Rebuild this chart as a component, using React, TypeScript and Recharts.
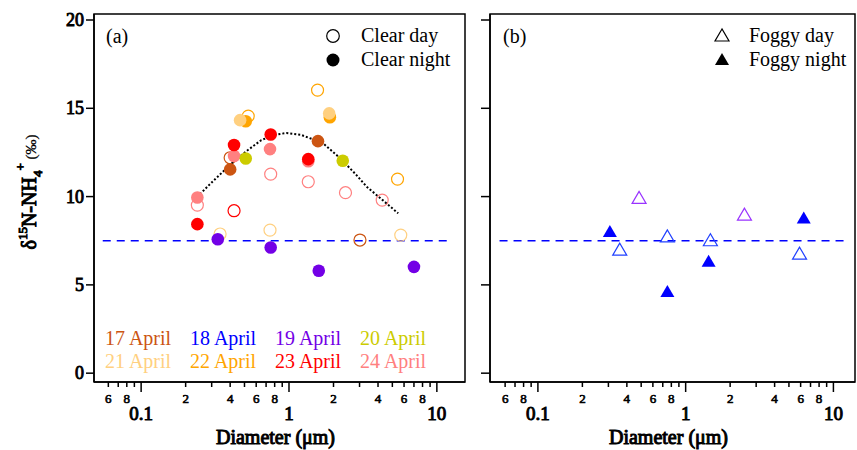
import React from 'react';
import {
  ScatterChart,
  Scatter,
  XAxis,
  YAxis,
  ReferenceLine,
  ReferenceArea,
} from 'recharts';

// ---------- data ----------
const clearDay17 = [
  { d: 0.4, v: 12.2 },
  { d: 3.02, v: 7.54 },
];
const clearDay21 = [
  { d: 0.342, v: 7.88 },
  { d: 0.744, v: 8.1 },
  { d: 5.7, v: 7.82 },
];
const clearDay22 = [
  { d: 1.56, v: 16.03 },
  { d: 0.53, v: 14.56 },
  { d: 5.42, v: 10.99 },
];
const clearDay23 = [{ d: 0.425, v: 9.2 }];
const clearDay24 = [
  { d: 0.752, v: 11.27 },
  { d: 1.35, v: 10.84 },
  { d: 2.41, v: 10.22 },
  { d: 4.27, v: 9.8 },
  { d: 0.24, v: 9.52 },
];

const clearNight17 = [
  { d: 0.4, v: 11.54 },
  { d: 1.57, v: 13.14 },
];
const clearNight19 = [
  { d: 0.33, v: 7.58 },
  { d: 0.752, v: 7.12 },
  { d: 1.59, v: 5.8 },
  { d: 7.0, v: 6.02 },
];
const clearNight20 = [
  { d: 0.51, v: 12.16 },
  { d: 2.31, v: 12.03 },
];
const clearNight21 = [
  { d: 0.467, v: 14.33 },
  { d: 1.87, v: 14.71 },
];
const clearNight22 = [
  { d: 0.51, v: 14.27 },
  { d: 1.89, v: 14.49 },
];
const clearNight23 = [
  { d: 0.24, v: 8.44 },
  { d: 0.425, v: 12.92 },
  { d: 0.752, v: 13.52 },
  { d: 1.35, v: 12.12 },
];
const clearNight24 = [
  { d: 0.24, v: 9.95 },
  { d: 0.425, v: 12.3 },
  { d: 0.744, v: 12.69 },
  { d: 1.35, v: 12.0 },
];

const fitCurve = [
  { d: 0.25, v: 10.14 },
  { d: 0.3, v: 10.8 },
  { d: 0.4, v: 11.8 },
  { d: 0.52, v: 12.6 },
  { d: 0.65, v: 13.2 },
  { d: 0.8, v: 13.5 },
  { d: 0.96, v: 13.6 },
  { d: 1.2, v: 13.5 },
  { d: 1.5, v: 13.2 },
  { d: 1.71, v: 13.0 },
  { d: 2.2, v: 12.2 },
  { d: 2.8, v: 11.3 },
  { d: 3.35, v: 10.56 },
  { d: 4.3, v: 9.8 },
  { d: 5.48, v: 9.05 },
];

const foggyDay18 = [
  { d: 0.358, v: 6.97 },
  { d: 0.752, v: 7.72 },
  { d: 1.47, v: 7.5 },
  { d: 5.9, v: 6.74 },
];
const foggyDay19 = [
  { d: 0.484, v: 9.9 },
  { d: 2.5, v: 8.95 },
];
const foggyNight18 = [
  { d: 0.307, v: 8.0 },
  { d: 0.752, v: 4.6 },
  { d: 1.43, v: 6.31 },
  { d: 6.3, v: 8.76 },
];

const refValue = 7.5;
const refStart = 0.055;
const refEnd = 12.2;

const xTicks = [
  0.06, 0.07, 0.08, 0.09, 0.1, 0.2, 0.3, 0.4, 0.5, 0.6, 0.7, 0.8, 0.9, 1, 2, 3, 4, 5, 6, 7, 8, 9, 10,
];
const xMinorLabels = [
  '6', '', '8', '', '', '2', '', '4', '', '6', '', '8', '', '', '2', '', '4', '', '6', '', '8', '', '',
];
const xMajorValues = [0.1, 1, 10];
const xMajorLabels = ['0.1', '1', '10'];
const yTicks = [0, 5, 10, 15, 20];
const xTitle = 'Diameter (μm)';

const dateLabels = [
  '17 April', '18 April', '19 April', '20 April',
  '21 April', '22 April', '23 April', '24 April',
];

// ---------- styles ----------
const C17 = '#CC5512';
const C18 = '#0000FF';
const C19 = '#7300E6';
const C20 = '#CCCC00';
const C21 = '#FFD080';
const C22 = '#FFA500';
const C23 = '#FF0000';
const C24 = '#FF8080';
const dateColors = [C17, C18, C19, C20, C21, C22, C23, C24];
const SERIF = "'Liberation Serif', serif";

const xDomainA = [0.048, 15.5];
const xDomainB = [0.0474, 14.0];
const yDomain = [-0.5, 20.34];

const openCircle = (color: string) => (p: any) => (
  <circle cx={p.cx} cy={p.cy} r={6} fill="none" stroke={color} strokeWidth={1.2} />
);
const filledCircle = (color: string) => (p: any) => (
  <circle cx={p.cx} cy={p.cy} r={6.3} fill={color} stroke="none" />
);
const triPoints = (cx: number, cy: number) =>
  `${cx},${cy - 7} ${cx - 7},${cy + 5} ${cx + 7},${cy + 5}`;
const openTri = (color: string) => (p: any) => (
  <polygon points={triPoints(p.cx, p.cy)} fill="none" stroke={color} strokeWidth={1.2} />
);
const filledTri = (color: string) => (p: any) => (
  <polygon points={triPoints(p.cx, p.cy)} fill={color} stroke="none" />
);
const noShape = () => <g />;

// faux-bold serif (regular face + thin outline)
const boldSerif = (size: number) => ({
  fontFamily: SERIF,
  fontWeight: 400,
  fontSize: size,
  fill: '#000',
  stroke: '#000',
  strokeWidth: size * 0.05,
});

const XTick = (props: any) => {
  const { x, y, payload } = props;
  const val = payload.value;
  const idx = xTicks.indexOf(val);
  const mi = xMajorValues.indexOf(val);
  const major = mi >= 0;
  const minorLabel = idx >= 0 ? xMinorLabels[idx] : '';
  return (
    <g>
      <line x1={x} x2={x} y1={y} y2={y + (major ? 10 : 5)} stroke="#000" strokeWidth={1.5} />
      {minorLabel && (
        <text x={x} y={y + 21} textAnchor="middle" style={boldSerif(13)}>
          {minorLabel}
        </text>
      )}
      {major && (
        <text x={x} y={y + 38} textAnchor="middle" style={boldSerif(19)}>
          {xMajorLabels[mi]}
        </text>
      )}
    </g>
  );
};

const YTick = (props: any) => {
  const { x, y, payload } = props;
  return (
    <text x={x} y={y + 6} textAnchor="end" style={boldSerif(18)}>
      {payload.value}
    </text>
  );
};

const XTitle = (props: any) => {
  const vb = props.viewBox || {};
  return (
    <text x={vb.x + vb.width / 2 - 4} y={444} textAnchor="middle" style={boldSerif(20)}>
      {xTitle}
    </text>
  );
};

function PanelA() {
  return (
    <ScatterChart width={470} height={450} margin={{ top: 14, right: 5, bottom: 0, left: 0 }}>
      <XAxis
        type="number"
        dataKey="d"
        scale="log"
        domain={xDomainA}
        allowDataOverflow
        ticks={xTicks}
        interval={0}
        tick={<XTick />}
        tickLine={false}
        tickSize={0}
        tickMargin={0}
        height={68}
        axisLine={{ stroke: '#000', strokeWidth: 1.5 }}
        label={{ content: <XTitle /> }}
      />
      <YAxis
        type="number"
        dataKey="v"
        domain={yDomain}
        allowDataOverflow
        ticks={yTicks}
        interval={0}
        width={94}
        tickSize={8}
        tickMargin={2}
        tickLine={{ stroke: '#000', strokeWidth: 1.5 }}
        axisLine={{ stroke: '#000', strokeWidth: 1.5 }}
        tick={<YTick />}
      />
      <ReferenceArea
        x1={xDomainA[0]}
        x2={xDomainA[1]}
        y1={yDomain[0]}
        y2={yDomain[1]}
        fill="none"
        fillOpacity={0}
        stroke="#000"
        strokeWidth={1.5}
      />
      <ReferenceLine
        segment={[{ x: refStart, y: refValue }, { x: refEnd, y: refValue }]}
        stroke={C18}
        strokeWidth={1.5}
        strokeDasharray="8 6"
      />
      <Scatter data={clearDay17} shape={openCircle(C17)} isAnimationActive={false} />
      <Scatter data={clearDay21} shape={openCircle(C21)} isAnimationActive={false} />
      <Scatter data={clearDay22} shape={openCircle(C22)} isAnimationActive={false} />
      <Scatter data={clearDay23} shape={openCircle(C23)} isAnimationActive={false} />
      <Scatter data={clearDay24} shape={openCircle(C24)} isAnimationActive={false} />
      <Scatter
        data={fitCurve}
        shape={noShape}
        line={{ stroke: '#000', strokeWidth: 2, strokeDasharray: '2 2' }}
        isAnimationActive={false}
      />
      <Scatter data={clearNight24} shape={filledCircle(C24)} isAnimationActive={false} />
      <Scatter data={clearNight23} shape={filledCircle(C23)} isAnimationActive={false} />
      <Scatter data={clearNight17} shape={filledCircle(C17)} isAnimationActive={false} />
      <Scatter data={clearNight19} shape={filledCircle(C19)} isAnimationActive={false} />
      <Scatter data={clearNight20} shape={filledCircle(C20)} isAnimationActive={false} />
      <Scatter data={clearNight22} shape={filledCircle(C22)} isAnimationActive={false} />
      <Scatter data={clearNight21} shape={filledCircle(C21)} isAnimationActive={false} />
    </ScatterChart>
  );
}

function PanelB() {
  return (
    <ScatterChart width={387} height={450} margin={{ top: 14, right: 2, bottom: 0, left: 0 }}>
      <XAxis
        type="number"
        dataKey="d"
        scale="log"
        domain={xDomainB}
        allowDataOverflow
        ticks={xTicks}
        interval={0}
        tick={<XTick />}
        tickLine={false}
        tickSize={0}
        tickMargin={0}
        height={68}
        axisLine={{ stroke: '#000', strokeWidth: 1.5 }}
        label={{ content: <XTitle /> }}
      />
      <YAxis
        type="number"
        dataKey="v"
        domain={yDomain}
        allowDataOverflow
        ticks={yTicks}
        interval={0}
        width={20}
        tickSize={9}
        tickLine={{ stroke: '#000', strokeWidth: 1.5 }}
        axisLine={{ stroke: '#000', strokeWidth: 1.5 }}
        tick={() => <g />}
      />
      <ReferenceArea
        x1={xDomainB[0]}
        x2={xDomainB[1]}
        y1={yDomain[0]}
        y2={yDomain[1]}
        fill="none"
        fillOpacity={0}
        stroke="#000"
        strokeWidth={1.5}
      />
      <ReferenceLine
        segment={[{ x: refStart, y: refValue }, { x: refEnd, y: refValue }]}
        stroke={C18}
        strokeWidth={1.5}
        strokeDasharray="8 6"
      />
      <Scatter data={foggyDay18} shape={openTri('#2040FF')} isAnimationActive={false} />
      <Scatter data={foggyDay19} shape={openTri('#9933FF')} isAnimationActive={false} />
      <Scatter data={foggyNight18} shape={filledTri(C18)} isAnimationActive={false} />
    </ScatterChart>
  );
}

function Overlay() {
  const txt = { fontFamily: SERIF, fontSize: 20, fill: '#000' };
  const colX = [105, 190, 275, 360];
  const rowY = [345, 368];
  return (
    <svg
      width={857}
      height={450}
      style={{ position: 'absolute', left: 0, top: 0, pointerEvents: 'none' }}
    >
      {/* y-axis label */}
      <text
        transform="translate(36,192) rotate(-90)"
        textAnchor="middle"
        style={boldSerif(20)}
      >
        <tspan>δ</tspan>
        <tspan fontSize={13} dy={-9}>15</tspan>
        <tspan dy={9}>N-NH</tspan>
        <tspan fontSize={13} dy={6}>4</tspan>
        <tspan fontSize={13} dy={-17}>+</tspan>
        <tspan fontSize={15} dy={11} style={{ strokeWidth: 0.3 }}> (‰)</tspan>
      </text>

      {/* panel tags */}
      <text x={106} y={43} style={txt}>(a)</text>
      <text x={503} y={43} style={txt}>(b)</text>

      {/* legend panel a */}
      <circle cx={333} cy={36} r={6.3} fill="none" stroke="#000" strokeWidth={1.2} />
      <text x={361} y={42} style={txt}>Clear day</text>
      <circle cx={333} cy={60} r={6.5} fill="#000" />
      <text x={361} y={66} style={txt}>Clear night</text>

      {/* legend panel b */}
      <polygon points={triPoints(722, 36)} fill="none" stroke="#000" strokeWidth={1.2} />
      <text x={749} y={42} style={txt}>Foggy day</text>
      <polygon points={triPoints(722, 60)} fill="#000" />
      <text x={749} y={66} style={txt}>Foggy night</text>

      {/* date labels */}
      {dateLabels.map((lab, i) => (
        <text
          key={lab}
          x={colX[i % 4]}
          y={rowY[Math.floor(i / 4)]}
          style={{ fontFamily: SERIF, fontSize: 20, fill: dateColors[i] }}
        >
          {lab}
        </text>
      ))}
    </svg>
  );
}

export default function App() {
  return (
    <div
      style={{
        position: 'absolute',
        left: 0,
        top: 0,
        width: 857,
        height: 450,
        overflow: 'hidden',
        background: '#fff',
      }}
    >
      <div style={{ position: 'absolute', left: 0, top: 0 }}>
        <PanelA />
      </div>
      <div style={{ position: 'absolute', left: 470, top: 0 }}>
        <PanelB />
      </div>
      <Overlay />
    </div>
  );
}
